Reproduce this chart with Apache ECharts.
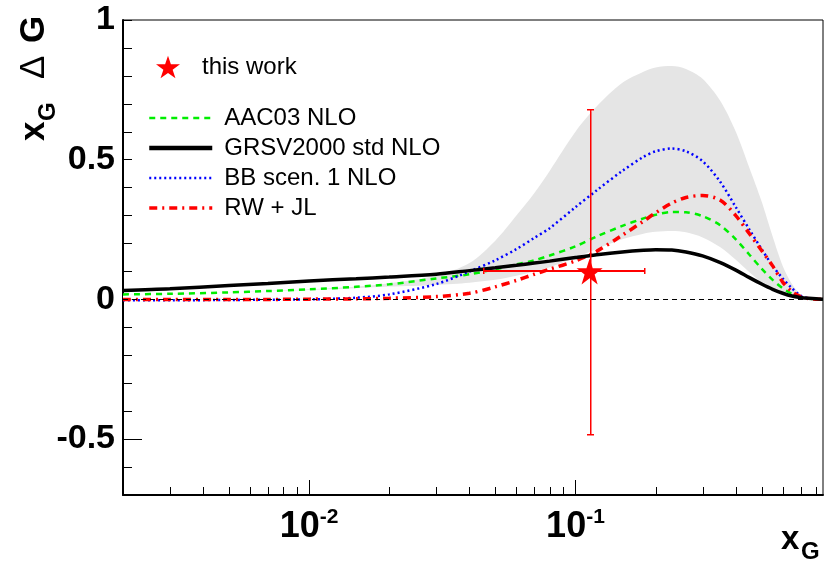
<!DOCTYPE html>
<html><head><meta charset="utf-8">
<script src="https://cdn.jsdelivr.net/npm/echarts/dist/echarts.min.js"></script>
<style>html,body{margin:0;padding:0;background:#fff}#c{width:825px;height:569px}</style>
</head><body><div id="c"></div>
<script>
// ---- data ----
const xs = [0.002,0.003,0.005,0.007,0.01,0.015,0.02,0.03,0.04,0.05,0.06,0.07,0.08,0.1,0.12,0.15,0.18,0.2,0.23,0.26,0.3,0.35,0.4,0.45,0.5,0.55,0.6,0.65,0.7,0.75,0.8,0.85];
const aac03 = [0.018,0.02,0.025,0.03,0.036,0.045,0.054,0.075,0.09,0.108,0.125,0.14,0.157,0.19,0.225,0.263,0.29,0.303,0.313,0.312,0.298,0.265,0.215,0.16,0.11,0.07,0.04,0.02,0.008,0.003,0.001,0.0];
const grsv = [0.032,0.038,0.05,0.057,0.066,0.074,0.08,0.09,0.103,0.113,0.122,0.13,0.137,0.15,0.16,0.17,0.176,0.178,0.177,0.17,0.156,0.132,0.105,0.078,0.055,0.036,0.022,0.012,0.007,0.004,0.002,0.001];
const bb = [-0.003,-0.003,-0.002,-0.001,0.0,0.006,0.018,0.055,0.1,0.14,0.18,0.22,0.255,0.33,0.39,0.46,0.51,0.53,0.54,0.53,0.495,0.42,0.33,0.25,0.18,0.12,0.075,0.04,0.014,0.004,0.001,0.0];
const rwjl = [0.0,0.0,0.0,0.0,0.001,0.002,0.004,0.01,0.022,0.045,0.068,0.09,0.108,0.138,0.172,0.23,0.28,0.31,0.345,0.365,0.372,0.355,0.3,0.235,0.175,0.12,0.062,0.028,0.01,0.003,0.001,0.0];
const bandHigh = [0.018,0.02,0.025,0.03,0.036,0.046,0.058,0.085,0.13,0.21,0.3,0.38,0.46,0.6,0.69,0.775,0.815,0.83,0.835,0.825,0.79,0.71,0.6,0.47,0.35,0.225,0.12,0.055,0.018,0.004,0.001,0.0];
const bandLow = [0.018,0.02,0.025,0.03,0.034,0.04,0.046,0.052,0.06,0.07,0.085,0.1,0.115,0.15,0.18,0.215,0.235,0.242,0.245,0.24,0.222,0.187,0.142,0.097,0.06,0.035,0.018,0.008,0.003,0.001,0.0,0.0];
// measurement: [x, y, xLow, xHigh, yLow, yHigh]
const thisWork = [[0.113, 0.1, 0.045, 0.183, -0.48, 0.68]];
const xMajorTicks = [0.01, 0.1];
const xMinorTicks = [0.003,0.004,0.005,0.006,0.007,0.008,0.009,0.02,0.03,0.04,0.05,0.06,0.07,0.08,0.09,0.2,0.3,0.4,0.5,0.6,0.7,0.8];
const yLabels = [-0.5, 0, 0.5, 1];
const yLongTicks = [-0.5];

const FONT = '"Liberation Sans", Arial, Helvetica, sans-serif';
const STAR = 'path://M50,0 L61.8,35.3 L99,35.3 L68.9,57.2 L80.4,92.7 L50,70.8 L19.6,92.7 L31.1,57.2 L1,35.3 L38.2,35.3 Z';

const pairs = arr => xs.map((x, i) => [x, arr[i]]);
const crisp = v => Math.round(v) + 0.5;
const redBar = (x, y, w, h) => ({type: 'rect', shape: {x: x, y: y, width: w, height: h}, style: {fill: '#ff0000', stroke: null, lineWidth: 0, opacity: 1}});

const chart = echarts.init(document.getElementById('c'), null, {renderer: 'canvas'});
chart.setOption({
  animation: false,
  backgroundColor: '#fff',
  grid: {left: 123, right: 2, top: 20, bottom: 74, show: true, borderColor: '#000', borderWidth: 1, outerBoundsMode: 'none', containLabel: false},
  xAxis: {
    type: 'log', logBase: 10, min: 0.002, max: 0.85,
    axisLine: {show: true, onZero: false, lineStyle: {color: '#000', width: 2}},
    axisTick: {show: true, inside: true, length: 15, lineStyle: {color: '#000', width: 1}},
    splitLine: {show: false}, minorTick: {show: false},
    axisPointer: {show: false},
    axisLabel: {
      margin: 12, showMinLabel: false, showMaxLabel: false,
      formatter: v => {
        const e = Math.log10(v);
        if (!xMajorTicks.some(t => Math.abs(Math.log10(t) - e) < 1e-6)) return '';
        return '{b|10}{s|' + Math.round(e) + '}';
      },
      rich: {
        b: {fontSize: 36, fontWeight: 'bold', fontFamily: FONT, color: '#000', lineHeight: 40},
        s: {fontSize: 21, fontWeight: 'bold', fontFamily: FONT, color: '#000', verticalAlign: 'top', lineHeight: 22}
      }
    }
  },
  yAxis: {
    type: 'value', min: -0.7, max: 1, interval: 0.1,
    axisLine: {show: true, onZero: false, lineStyle: {color: '#000', width: 2}},
    axisTick: {show: true, inside: true, length: 9, lineStyle: {color: '#000', width: 1}},
    splitLine: {show: false},
    axisLabel: {
      margin: 8, fontSize: 34, fontWeight: 'bold', fontFamily: FONT, color: '#000',
      formatter: v => { const r = Math.round(v * 10) / 10; return yLabels.includes(r) ? String(r) : ''; }
    }
  },
  legend: [
    {
      data: [{name: 'this work', icon: STAR}],
      left: 156, top: 55, padding: 0, orient: 'vertical', itemWidth: 24, itemHeight: 24,
      itemStyle: {color: '#ff0000', opacity: 1},
      textStyle: {fontSize: 24, fontFamily: FONT, color: '#000', padding: [0, 0, 0, 17]},
      selectedMode: false
    },
    {
      data: [
        {name: 'AAC03 NLO', lineStyle: {width: 2.5}},
        {name: 'GRSV2000 std NLO', lineStyle: {width: 4.5}},
        {name: 'BB scen. 1 NLO', lineStyle: {width: 2.5}},
        {name: 'RW + JL', lineStyle: {width: 3.5}}
      ],
      left: 147, top: 106, padding: 0, orient: 'vertical', itemWidth: 63, itemHeight: 14, itemGap: 6,
      itemStyle: {opacity: 0},
      textStyle: {fontSize: 24, fontFamily: FONT, color: '#000', padding: [0, 0, 0, 7]},
      selectedMode: false
    }
  ],
  graphic: [
    {type: 'text', x: 781, y: 540, style: {text: 'x', font: 'bold 33px ' + FONT, fill: '#000', textAlign: 'left', textVerticalAlign: 'middle'}},
    {type: 'text', x: 801, y: 552, style: {text: 'G', font: 'bold 24px ' + FONT, fill: '#000', textAlign: 'left', textVerticalAlign: 'middle'}},
    {type: 'group', x: 0, y: 141, rotation: Math.PI / 2, children: [
      {type: 'text', x: 0, y: 34, style: {text: 'x', font: 'bold 35px ' + FONT, fill: '#000', textAlign: 'left', textVerticalAlign: 'middle'}},
      {type: 'text', x: 20, y: 48, style: {text: 'G', font: 'bold 24px ' + FONT, fill: '#000', textAlign: 'left', textVerticalAlign: 'middle'}},
      {type: 'text', x: 62, y: 34, style: {text: 'Δ', font: '35px ' + FONT, fill: '#000', textAlign: 'left', textVerticalAlign: 'middle'}},
      {type: 'text', x: 98, y: 34, style: {text: 'G', font: 'bold 35px ' + FONT, fill: '#000', textAlign: 'left', textVerticalAlign: 'middle'}}
    ]}
  ],
  series: [
    // error band: grey area under the upper edge, white area under the lower edge
    {name: 'bandHigh', type: 'line', data: pairs(bandHigh), symbol: 'none', smooth: 0.3,
      lineStyle: {width: 0, opacity: 0}, areaStyle: {color: '#e5e5e5', opacity: 1}, silent: true, z: 1},
    {name: 'bandLow', type: 'line', data: pairs(bandLow), symbol: 'none', smooth: 0.3,
      lineStyle: {width: 0, opacity: 0}, areaStyle: {color: '#ffffff', opacity: 1}, silent: true, z: 1},
    {name: 'AAC03 NLO', type: 'line', data: pairs(aac03), symbol: 'none', smooth: 0.3, z: 3,
      lineStyle: {color: '#00ee00', width: 2.5, type: [6, 5]}, itemStyle: {color: '#00ee00'},
      markLine: {silent: true, symbol: ['none', 'none'], label: {show: false}, animation: false,
        lineStyle: {color: '#000', type: [5, 4], width: 1}, data: [{yAxis: 0}]}},
    {name: 'BB scen. 1 NLO', type: 'line', data: pairs(bb), symbol: 'none', smooth: 0.3, z: 3,
      lineStyle: {color: '#0000ff', width: 2.5, type: [2, 3]}, itemStyle: {color: '#0000ff'}},
    {name: 'RW + JL', type: 'line', data: pairs(rwjl), symbol: 'none', smooth: 0.3, z: 3,
      lineStyle: {color: '#ff0000', width: 3.5, type: [8, 5, 2, 5]}, itemStyle: {color: '#ff0000'}},
    {name: 'GRSV2000 std NLO', type: 'line', data: pairs(grsv), symbol: 'none', smooth: 0.3, z: 4,
      lineStyle: {color: '#000', width: 3.5}, itemStyle: {color: '#000'}},
    {name: 'errors', type: 'custom', data: thisWork, z: 6, silent: true, clip: false,
      itemStyle: {color: '#ff0000'},
      encode: {x: [0, 2, 3], y: [1, 4, 5]},
      renderItem: (params, api) => {
        const x = api.value(0), y = api.value(1);
        const c = api.coord([x, y]);
        const l = api.coord([api.value(2), y]), r = api.coord([api.value(3), y]);
        const b = api.coord([x, api.value(4)]), t = api.coord([x, api.value(5)]);
        const cap = 3;
        const cx = Math.round(c[0]), cy = Math.round(c[1]);
        const lx = Math.round(l[0]), rx = Math.round(r[0]), ty = Math.round(t[1]), by = Math.round(b[1]);
        return {type: 'group', children: [
          redBar(lx, cy - 1, rx - lx, 2),
          redBar(cx, ty, 1.5, by - ty),
          redBar(lx, cy - cap, 1.5, 2 * cap),
          redBar(rx - 1, cy - cap, 1.5, 2 * cap),
          redBar(cx - cap, ty, 2 * cap + 1, 1.5),
          redBar(cx - cap, by, 2 * cap + 1, 1.5)
        ]};
      }},
    {name: 'this work', type: 'scatter', data: thisWork.map(d => [d[0], d[1]]), symbol: STAR, symbolSize: 26, z: 7,
      itemStyle: {color: '#ff0000', opacity: 1}},
    {name: 'xMinor', type: 'custom', data: xMinorTicks.map(v => [v, -0.7]), z: 8, silent: true,
      renderItem: (params, api) => {
        const p = api.coord([api.value(0), api.value(1)]);
        const x = crisp(p[0]);
        return {type: 'line', shape: {x1: x, y1: p[1], x2: x, y2: p[1] - 8}, style: {stroke: '#000', lineWidth: 1}};
      }},
    {name: 'yLong', type: 'custom', data: yLongTicks.map(v => [0.002, v]), z: 8, silent: true,
      renderItem: (params, api) => {
        const p = api.coord([api.value(0), api.value(1)]);
        const y = crisp(p[1]);
        return {type: 'line', shape: {x1: p[0], y1: y, x2: p[0] + 19, y2: y}, style: {stroke: '#000', lineWidth: 1}};
      }}
  ]
});
</script>
</body></html>
